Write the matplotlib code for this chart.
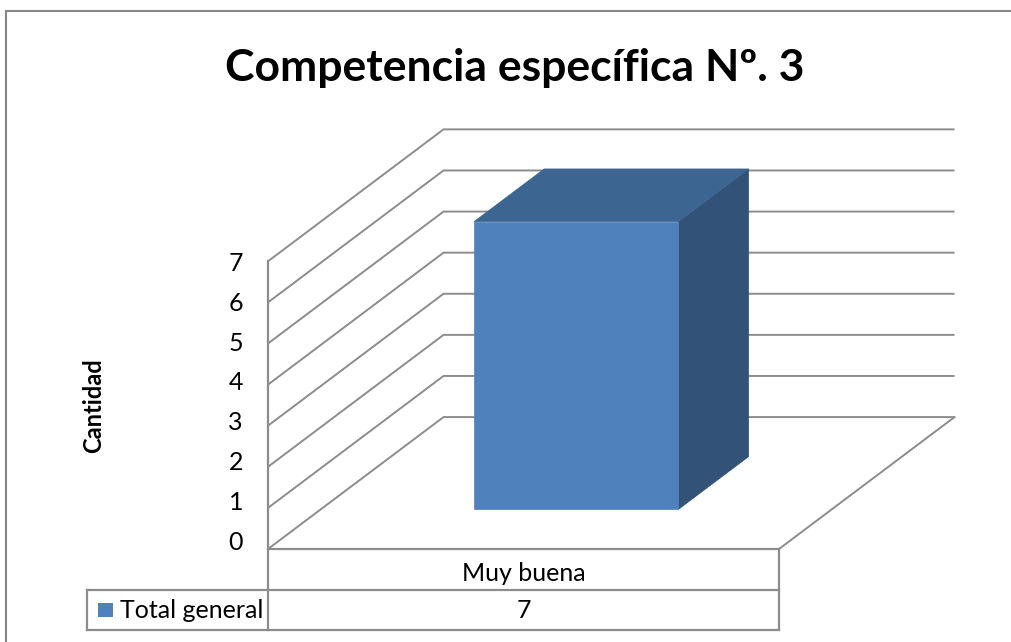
import matplotlib
matplotlib.use("Agg")
import matplotlib.pyplot as plt
from matplotlib.patches import Polygon, Rectangle
from matplotlib.lines import Line2D

# --- data ---
categories = ["Muy buena"]
series_name = "Total general"
values = [7]
y_ticks = [0, 1, 2, 3, 4, 5, 6, 7]

title = "Competencia específica Nº. 3"
y_label = "Cantidad"

# --- style ---
FRONT = "#4F81BD"
TOP = "#3D6592"
SIDE = "#325278"
GRID = "#8C8C8C"
FONT = ["Lato", "DejaVu Sans"]
plt.rcParams["font.family"] = FONT

# layout (pixels of the 1011x642 canvas)
W, H = 1011, 642
ORIGIN = (268, 549)     # front-left corner of the floor
CAT_PX = 511            # width of one category on the floor front edge
UNIT_PX = 41.1          # one value unit
DX, DY = 0.3435, 3.21   # oblique shift of the back wall (category / value units)
GAP = 0.3               # bar starts 30% into its slot, both in width and depth
ROW_H = 0.99            # data-table row height (value units)
FS = 18                 # body text size


def proj(x, y, d):
    """x in category units, y in value units, d = depth 0 (front) .. 1 (back)."""
    return x + d * DX, y + d * DY


fig = plt.figure(figsize=(W / 100, H / 100), dpi=100)
ax = fig.add_axes([0, 0, 1, 1])
ax.set_xlim(-ORIGIN[0] / CAT_PX, (W - ORIGIN[0]) / CAT_PX)
ax.set_ylim(-(H - ORIGIN[1]) / UNIT_PX, ORIGIN[1] / UNIT_PX)
ax.axis("off")

n = len(categories)
ymax = max(y_ticks)

# walls: gridlines on left wall and back wall
for v in y_ticks:
    p0, p1, p2 = proj(0, v, 0), proj(0, v, 1), proj(n, v, 1)
    ax.plot([p0[0], p1[0], p2[0]], [p0[1], p1[1], p2[1]],
            color=GRID, lw=1.4, solid_capstyle="butt", zorder=1)
    ax.text(-0.049, v * 0.968 + 0.17, str(v), ha="right", va="center",
            fontsize=FS, color="black")

# floor right edge
f0, f1 = proj(n, 0, 0), proj(n, 0, 1)
ax.plot([f0[0], f1[0]], [f0[1], f1[1]], color=GRID, lw=1.4, zorder=1)

# bars
for i, v in enumerate(values):
    x0, x1 = i + GAP, i + 1 - GAP
    d0, d1 = GAP, 1 - GAP
    front = [proj(x0, 0, d0), proj(x1, 0, d0), proj(x1, v, d0), proj(x0, v, d0)]
    top = [proj(x0, v, d0), proj(x1, v, d0), proj(x1, v, d1), proj(x0, v, d1)]
    side = [proj(x1, 0, d0), proj(x1, 0, d1), proj(x1, v, d1), proj(x1, v, d0)]
    for pts, col in [(side, SIDE), (top, TOP), (front, FRONT)]:
        ax.add_patch(Polygon(pts, closed=True, facecolor=col,
                             edgecolor=col, lw=0.5, zorder=3))

# data table
tbl = dict(color=GRID, lw=1.6, solid_capstyle="projecting", zorder=2)
key_left = -0.354
ax.plot([0, 0], [ymax, -2 * ROW_H], **tbl)                # left wall edge + table
ax.plot([n, n], [0, -2 * ROW_H], **tbl)
ax.plot([0, n], [0, 0], **tbl)
ax.plot([key_left, n], [-ROW_H, -ROW_H], **tbl)
ax.plot([key_left, n], [-2 * ROW_H, -2 * ROW_H], **tbl)
ax.plot([key_left, key_left], [-ROW_H, -2 * ROW_H], **tbl)
for i in range(1, n):
    ax.plot([i, i], [0, -2 * ROW_H], **tbl)

for i, (cat, v) in enumerate(zip(categories, values)):
    ax.text(i + 0.5, -0.6 * ROW_H, cat, ha="center", va="center", fontsize=FS)
    ax.text(i + 0.5, -1.5 * ROW_H, str(v), ha="center", va="center", fontsize=FS)

# legend key
key_w, key_h = 15 / CAT_PX, 14 / UNIT_PX
ax.add_patch(Rectangle((-0.333, -1.5 * ROW_H - key_h / 2), key_w, key_h,
                       facecolor=FRONT, edgecolor="none", zorder=3))
ax.text(-0.29, -1.5 * ROW_H, series_name, ha="left", va="center", fontsize=FS)

# axis title
ax.text(-0.342, ymax / 2, y_label, rotation=90, ha="center", va="center",
        fontsize=17, fontweight="bold")

# chart title
fig.text(0.509, 0.894, title, ha="center", va="center",
         fontsize=32, fontweight="bold")

# chart border (top and left edges visible)
fig.add_artist(Line2D([6 / W, 1], [1 - 11 / H, 1 - 11 / H],
                      color="#868686", lw=1.5, transform=fig.transFigure))
fig.add_artist(Line2D([6 / W, 6 / W], [0, 1 - 11 / H],
                      color="#868686", lw=1.5, transform=fig.transFigure))

fig.savefig("out.png", dpi=100)
